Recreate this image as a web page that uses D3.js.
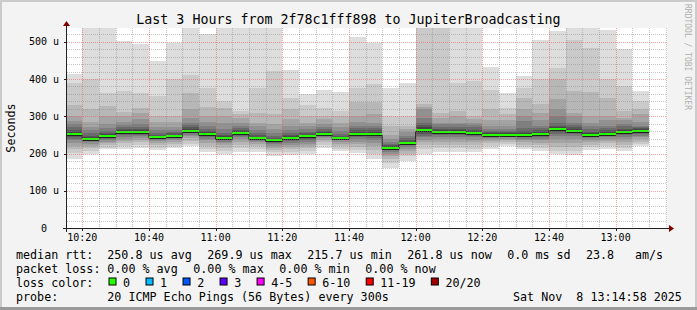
<!DOCTYPE html>
<html>
<head>
<meta charset="utf-8">
<script src="https://cdn.jsdelivr.net/npm/d3@7"></script>
<style>
  html, body { margin: 0; padding: 0; background: #f3f3f3; }
  svg { display: block; font-family: "DejaVu Sans Mono", monospace; }
  text { white-space: pre; }
</style>
</head>
<body>
<svg id="chart" width="697" height="310"></svg>
<script>
const svg = d3.select("#chart");

const titleText = "Last 3 Hours from 2f78c1fff898 to JupiterBroadcasting";
const day = "2025-11-08";
const rangeStart = "10:15:25";
const rangeEnd = "13:15:25";
const yMax = 537;

// one bin every 5 minutes
const binTimes = [
  "10:15", "10:20", "10:25", "10:30", "10:35", "10:40", "10:45", "10:50", "10:55",
  "11:00", "11:05", "11:10", "11:15", "11:20", "11:25", "11:30", "11:35", "11:40",
  "11:45", "11:50", "11:55", "12:00", "12:05", "12:10", "12:15", "12:20", "12:25",
  "12:30", "12:35", "12:40", "12:45", "12:50", "12:55", "13:00", "13:05"
];

// median rtt per bin (us)
const medians = [
  253, 240, 248, 258, 258, 245.5, 248, 261.6, 253.6,
  242, 256, 242, 235, 242, 246, 253.6, 242, 253.6,
  253.6, 216, 229.5, 263.4, 258, 258, 256, 251, 251,
  251, 253.6, 267, 261.6, 251, 253.6, 259, 261.6
];

// lost pings per bin (of 20)
const lossCounts = [
  0, 0, 0, 0, 0, 0, 0, 0, 0, 0, 0, 0, 0, 0, 0, 0, 0, 0,
  0, 0, 0, 0, 0, 0, 0, 0, 0, 0, 0, 0, 0, 0, 0, 0, 0
];

// 20 sorted ping rtts per bin (us)
const pings = [
  [185, 201, 212, 220, 228, 235, 240, 244, 248, 251, 255, 258, 263, 270, 278, 288, 301, 330, 390, 414],
  [198, 206, 214, 220, 226, 230, 233, 236, 238, 239, 241, 244, 248, 254, 262, 272, 285, 320, 399, 560],
  [211, 216, 222, 228, 232, 236, 240, 243, 245, 247, 249, 252, 256, 261, 268, 278, 300, 328, 363, 545],
  [213, 220, 228, 234, 240, 245, 249, 252, 255, 257, 259, 262, 265, 270, 277, 285, 300, 312, 368, 502],
  [216, 222, 230, 236, 241, 246, 250, 253, 255, 257, 259, 262, 266, 272, 280, 292, 308, 322, 362, 495],
  [209, 215, 222, 228, 233, 237, 240, 242, 244, 245, 246, 248, 251, 256, 262, 272, 285, 300, 354, 448],
  [216, 221, 226, 231, 236, 240, 243, 245, 247, 248, 249, 251, 254, 258, 264, 272, 285, 302, 401, 497],
  [219, 226, 234, 241, 247, 251, 255, 258, 260, 261, 263, 266, 270, 276, 283, 295, 320, 363, 412, 540],
  [205, 213, 220, 228, 235, 240, 244, 247, 250, 252, 254, 257, 261, 267, 275, 285, 300, 325, 375, 522],
  [198, 208, 216, 222, 228, 232, 236, 239, 241, 242, 243, 246, 250, 256, 265, 283, 301, 323, 342, 560],
  [204, 214, 224, 232, 238, 243, 247, 250, 253, 255, 257, 260, 264, 268, 274, 283, 296, 305, 314, 560],
  [204, 212, 219, 225, 230, 234, 237, 239, 241, 242, 243, 245, 249, 255, 263, 274, 283, 310, 377, 560],
  [194, 203, 210, 215, 220, 225, 229, 232, 234, 235, 236, 238, 242, 248, 256, 265, 280, 305, 421, 560],
  [196, 205, 212, 218, 224, 229, 233, 237, 240, 242, 243, 246, 250, 256, 264, 275, 292, 320, 350, 424],
  [200, 207, 214, 220, 226, 231, 235, 239, 242, 244, 247, 250, 254, 259, 266, 275, 283, 300, 330, 359],
  [214, 222, 230, 236, 241, 245, 248, 251, 253, 254, 255, 257, 261, 266, 272, 279, 292, 301, 323, 371],
  [206, 213, 220, 226, 231, 235, 238, 240, 241, 242, 243, 245, 248, 253, 260, 270, 283, 300, 314, 365],
  [201, 210, 218, 225, 232, 238, 243, 247, 251, 253, 255, 258, 262, 268, 274, 285, 300, 337, 377, 513],
  [185, 198, 210, 220, 228, 235, 241, 246, 250, 253, 255, 258, 262, 268, 275, 283, 305, 337, 386, 496],
  [160, 175, 185, 193, 200, 205, 209, 212, 214, 215, 217, 219, 222, 226, 232, 240, 250, 275, 301, 377],
  [180, 192, 200, 207, 213, 218, 222, 225, 227, 229, 230, 232, 236, 241, 248, 257, 266, 274, 300, 390],
  [200, 212, 222, 230, 237, 243, 248, 253, 258, 261, 265, 270, 276, 283, 295, 319, 325, 332, 560, 580],
  [203, 214, 224, 232, 239, 245, 250, 254, 256, 257, 259, 262, 266, 272, 278, 283, 295, 308, 560, 580],
  [204, 214, 223, 231, 238, 244, 249, 253, 256, 257, 259, 262, 266, 272, 278, 283, 300, 314, 390, 560],
  [203, 213, 222, 230, 237, 243, 248, 252, 254, 255, 257, 260, 264, 270, 276, 283, 292, 301, 395, 560],
  [213, 220, 227, 233, 238, 242, 245, 248, 250, 251, 252, 254, 257, 261, 266, 274, 290, 320, 371, 433],
  [220, 226, 231, 236, 240, 244, 247, 249, 250, 251, 252, 254, 257, 261, 266, 274, 290, 305, 321, 362],
  [212, 218, 224, 230, 236, 240, 244, 247, 249, 250, 252, 255, 260, 268, 287, 300, 319, 350, 377, 408],
  [207, 215, 222, 229, 235, 240, 244, 248, 251, 253, 255, 258, 262, 268, 274, 290, 310, 332, 399, 504],
  [198, 208, 218, 228, 238, 246, 252, 257, 262, 266, 268, 271, 275, 283, 300, 319, 346, 399, 430, 529],
  [196, 208, 218, 228, 238, 246, 252, 256, 259, 261, 263, 266, 270, 276, 283, 300, 310, 368, 504, 545],
  [210, 217, 224, 230, 236, 241, 245, 248, 250, 251, 252, 255, 259, 265, 274, 283, 301, 365, 484, 540],
  [212, 220, 227, 233, 238, 243, 247, 250, 252, 253, 255, 258, 262, 268, 275, 290, 301, 350, 401, 531],
  [207, 216, 224, 231, 238, 244, 249, 253, 256, 258, 260, 263, 267, 273, 280, 290, 296, 314, 381, 481],
  [219, 226, 232, 238, 243, 248, 252, 256, 259, 261, 263, 265, 268, 272, 274, 285, 305, 320, 341, 368]
];

const yTicks = [0, 100, 200, 300, 400, 500];

const smokeColors = [
  "#dddddd", "#cacaca", "#b7b7b7", "#a4a4a4", "#919191",
  "#7e7e7e", "#6b6b6b", "#585858", "#454545", "#323232"
];

const lossLegend = [
  { max: 0, label: "0", color: "#26ff00" },
  { max: 1, label: "1", color: "#00b8ff" },
  { max: 2, label: "2", color: "#0059ff" },
  { max: 3, label: "3", color: "#5e00ff" },
  { max: 5, label: "4-5", color: "#ff00ff" },
  { max: 10, label: "6-10", color: "#ff5500" },
  { max: 19, label: "11-19", color: "#ff0000" },
  { max: 20, label: "20/20", color: "#a10000" }
];

const rttSummary = [
  ["250.8", "us avg"], ["269.9", "us max"], ["215.7", "us min"],
  ["261.8", "us now"], ["0.0", "ms sd"]
];
const rttAmS = "23.8";
const lossSummary = [
  ["0.00", "% avg"], ["0.00", "% max"], ["0.00", "% min"], ["0.00", "% now"]
];
const probeText = "20 ICMP Echo Pings (56 Bytes) every 300s";
const stampText = "Sat Nov  8 13:14:58 2025";

// ---- layout
const width = 697;
const height = 310;
const plot = { left: 67, top: 28, right: 667, bottom: 228 };
const parseTime = d3.timeParse("%Y-%m-%d %H:%M:%S");
const charW = 7.02;

const x = d3.scaleTime()
  .domain([parseTime(`${day} ${rangeStart}`), parseTime(`${day} ${rangeEnd}`)])
  .range([plot.left, plot.right]);

const y = d3.scaleLinear()
  .domain([0, yMax])
  .range([plot.bottom, plot.top]);

const bins = binTimes.map((t, i) => {
  const start = parseTime(`${day} ${t}:00`);
  return {
    start,
    end: d3.timeMinute.offset(start, 5),
    median: medians[i],
    loss: lossCounts[i],
    pings: pings[i]
  };
});

// ---- frame
svg.append("rect")
  .attr("width", width).attr("height", height)
  .attr("fill", "#f3f3f3");
svg.append("rect").attr("x", 0).attr("y", 0).attr("width", width).attr("height", 2).attr("fill", "#cbcbcb");
svg.append("rect").attr("x", 0).attr("y", 0).attr("width", 2).attr("height", height).attr("fill", "#cbcbcb");
svg.append("rect").attr("x", width - 2).attr("y", 0).attr("width", 2).attr("height", height).attr("fill", "#cbcbcb");
svg.append("rect").attr("x", 0).attr("y", height - 3).attr("width", width).attr("height", 3).attr("fill", "#9a9a9a");

svg.append("rect")
  .attr("x", plot.left).attr("y", plot.top)
  .attr("width", plot.right - plot.left).attr("height", plot.bottom - plot.top)
  .attr("fill", "#ffffff");

svg.append("clipPath").attr("id", "plot-clip")
  .append("rect")
  .attr("x", plot.left).attr("y", plot.top)
  .attr("width", plot.right - plot.left).attr("height", plot.bottom - plot.top);

// ---- smoke
const smoke = svg.append("g").attr("clip-path", "url(#plot-clip)");

bins.forEach(bin => {
  const n = bin.pings.length;
  smokeColors.forEach((color, i) => {
    const lo = bin.pings[i];
    const hi = bin.pings[n - 1 - i];
    if (hi <= lo) return;
    smoke.append("rect")
      .attr("x", x(bin.start))
      .attr("width", x(bin.end) - x(bin.start))
      .attr("y", y(hi))
      .attr("height", y(lo) - y(hi))
      .attr("fill", color)
      .attr("shape-rendering", "crispEdges");
  });
});

// ---- median line
const medianPoints = bins.map(d => [d.start, d.median]);
medianPoints.push([bins[bins.length - 1].end, bins[bins.length - 1].median]);

smoke.append("path")
  .datum(medianPoints)
  .attr("fill", "none")
  .attr("stroke", "#202020")
  .attr("stroke-width", 1)
  .attr("d", d3.line()
    .x(d => x(d[0]))
    .y(d => Math.round(y(d[1])) + 1.5)
    .curve(d3.curveStepAfter));

const lossColor = loss => lossLegend.find(d => loss <= d.max).color;

smoke.selectAll("rect.median")
  .data(bins)
  .join("rect")
  .attr("class", "median")
  .attr("x", d => x(d.start))
  .attr("width", d => x(d.end) - x(d.start))
  .attr("y", d => Math.round(y(d.median)) - 1)
  .attr("height", 2)
  .attr("fill", d => lossColor(d.loss))
  .attr("shape-rendering", "crispEdges");

// ---- grid (drawn over the data, like rrdtool)
const grid = svg.append("g").attr("fill", "none").attr("stroke-dasharray", "1,1");

const minorY = d3.range(0, yMax, 20).filter(v => v % 100 !== 0);
grid.selectAll("line.hminor")
  .data(minorY)
  .join("line")
  .attr("x1", plot.left).attr("x2", plot.right)
  .attr("y1", d => Math.round(y(d)) + 0.5).attr("y2", d => Math.round(y(d)) + 0.5)
  .attr("stroke", "rgba(130,130,130,0.45)");

const minorX = x.ticks(d3.timeMinute.every(5)).filter(d => d.getMinutes() % 20 !== 0);
grid.selectAll("line.vminor")
  .data(minorX)
  .join("line")
  .attr("x1", d => Math.round(x(d)) + 0.5).attr("x2", d => Math.round(x(d)) + 0.5)
  .attr("y1", plot.top).attr("y2", plot.bottom)
  .attr("stroke", "rgba(130,130,130,0.45)");

grid.selectAll("line.hmajor")
  .data(yTicks.filter(v => v > 0))
  .join("line")
  .attr("x1", plot.left).attr("x2", plot.right)
  .attr("y1", d => Math.round(y(d)) + 0.5).attr("y2", d => Math.round(y(d)) + 0.5)
  .attr("stroke", "rgba(235,90,90,0.55)");

const majorX = x.ticks(d3.timeMinute.every(20));
grid.selectAll("line.vmajor")
  .data(majorX)
  .join("line")
  .attr("x1", d => Math.round(x(d)) + 0.5).attr("x2", d => Math.round(x(d)) + 0.5)
  .attr("y1", plot.top).attr("y2", plot.bottom)
  .attr("stroke", "rgba(235,90,90,0.55)");

// ---- axes
const axes = svg.append("g").attr("stroke", "#202020").attr("shape-rendering", "crispEdges");
axes.append("line")
  .attr("x1", plot.left - 4).attr("x2", plot.right + 3)
  .attr("y1", plot.bottom + 0.5).attr("y2", plot.bottom + 0.5);
axes.append("line")
  .attr("x1", plot.left - 0.5).attr("x2", plot.left - 0.5)
  .attr("y1", plot.bottom + 4).attr("y2", plot.top - 3);

axes.selectAll("line.ytick")
  .data(yTicks.filter(v => v > 0))
  .join("line")
  .attr("x1", plot.left - 3).attr("x2", plot.left)
  .attr("y1", d => Math.round(y(d)) + 0.5).attr("y2", d => Math.round(y(d)) + 0.5);

axes.selectAll("line.xtick")
  .data(majorX)
  .join("line")
  .attr("x1", d => Math.round(x(d)) + 0.5).attr("x2", d => Math.round(x(d)) + 0.5)
  .attr("y1", plot.bottom).attr("y2", plot.bottom + 3);

svg.append("path")
  .attr("d", `M${plot.right + 2},${plot.bottom - 3}L${plot.right + 7},${plot.bottom + 0.5}L${plot.right + 2},${plot.bottom + 4}Z`)
  .attr("fill", "#7f0000");
svg.append("path")
  .attr("d", `M${plot.left - 4},${plot.top - 2}L${plot.left - 0.5},${plot.top - 7}L${plot.left + 3},${plot.top - 2}Z`)
  .attr("fill", "#7f0000");

// tick labels
svg.append("g")
  .selectAll("text")
  .data(yTicks)
  .join("text")
  .attr("x", 59)
  .attr("y", d => y(d) + 3.5)
  .attr("text-anchor", "end")
  .attr("font-size", "10px")
  .attr("fill", "#000")
  .text(d => d === 0 ? "0  " : `${d} u`);

const timeFmt = d3.timeFormat("%H:%M");
svg.append("g")
  .selectAll("text")
  .data(majorX)
  .join("text")
  .attr("x", d => x(d))
  .attr("y", 241)
  .attr("text-anchor", "middle")
  .attr("font-size", "10px")
  .attr("fill", "#000")
  .text(d => timeFmt(d));

// ---- titles
svg.append("text")
  .attr("x", width / 2)
  .attr("y", 23.5)
  .attr("text-anchor", "middle")
  .attr("font-size", "13.3px")
  .attr("fill", "#000")
  .text(titleText);

svg.append("text")
  .attr("transform", "translate(15,128) rotate(-90)")
  .attr("text-anchor", "middle")
  .attr("font-size", "11.7px")
  .attr("fill", "#000")
  .text("Seconds");

svg.append("text")
  .attr("transform", "translate(685,4) rotate(90)")
  .attr("font-size", "8px")
  .attr("fill", "#b0b0b0")
  .text("RRDTOOL / TOBI OETIKER");

// ---- legend
const legend = svg.append("g").attr("font-size", "11.7px").attr("fill", "#000");
const rowY = [258.5, 272.5, 286.5, 300.5];
const valueX = 107.3;

legend.append("text").attr("x", 16).attr("y", rowY[0]).text("median rtt:");
rttSummary.forEach((d, i) => {
  legend.append("text").attr("x", valueX + i * 100).attr("y", rowY[0]).text(`${d[0]} ${d[1]}`);
});
legend.append("text").attr("x", 586).attr("y", rowY[0]).text(rttAmS);
legend.append("text").attr("x", 635).attr("y", rowY[0]).text("am/s");

legend.append("text").attr("x", 16).attr("y", rowY[1]).text("packet loss:");
lossSummary.forEach((d, i) => {
  legend.append("text").attr("x", valueX + i * 86).attr("y", rowY[1]).text(`${d[0]} ${d[1]}`);
});

legend.append("text").attr("x", 16).attr("y", rowY[2]).text("loss color:");
let bx = 108.5;
lossLegend.forEach(d => {
  legend.append("rect")
    .attr("x", bx + 0.5).attr("y", rowY[2] - 8.5)
    .attr("width", 7).attr("height", 7)
    .attr("fill", d.color)
    .attr("stroke", "#000")
    .attr("stroke-width", 1);
  legend.append("text").attr("x", bx + 14.6).attr("y", rowY[2]).text(d.label);
  bx = bx + 14.6 + d.label.length * charW + 15.4;
});

legend.append("text").attr("x", 16).attr("y", rowY[3]).text("probe:");
legend.append("text").attr("x", valueX).attr("y", rowY[3]).text(probeText);
legend.append("text").attr("x", 513).attr("y", rowY[3]).text(stampText);
</script>
</body>
</html>
